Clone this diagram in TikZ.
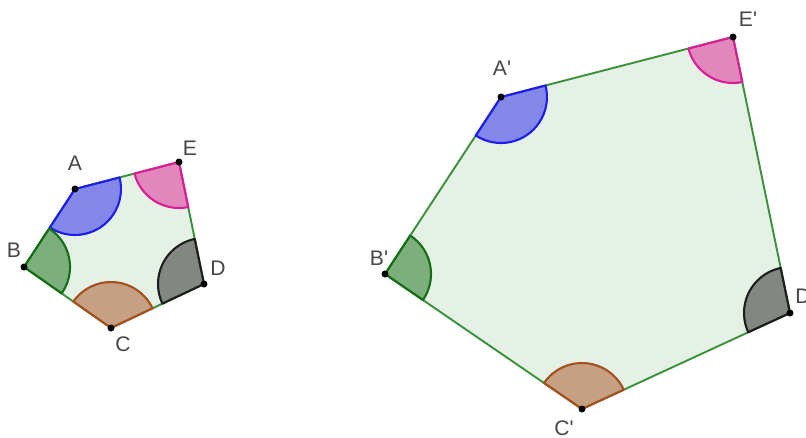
\documentclass[tikz,border=0pt]{standalone}
\usepackage{fontspec}
\setmainfont{Liberation Sans}
\usetikzlibrary{calc}
\definecolor{edgegreen}{RGB}{60,145,60}
\definecolor{angA}{RGB}{30,30,235}
\definecolor{angB}{RGB}{20,110,20}
\definecolor{angC}{RGB}{165,80,30}
\definecolor{angD}{RGB}{30,30,30}
\definecolor{angE}{RGB}{220,30,150}
\definecolor{labelgray}{RGB}{70,70,70}
\tikzset{
  poly/.style={draw=edgegreen, line width=1.1pt, fill=edgegreen, fill opacity=0.13, line join=round},
  sector/.style={draw=#1, fill=#1, fill opacity=0.5, line width=1.2pt, line join=round},
  lbl/.style={text=labelgray, font=\fontsize{12}{14}\selectfont, inner sep=0pt}
}
\begin{document}
\begin{tikzpicture}[x=0.02cm, y=-0.02cm]
\useasboundingbox (0,0) rectangle (806,437);
% small pentagon
\coordinate (A) at (75,189);
\coordinate (B) at (24,267);
\coordinate (C) at (111,328);
\coordinate (D) at (204,284);
\coordinate (E) at (179,162);
% large pentagon
\coordinate (A1) at (501,97);
\coordinate (B1) at (385,274);
\coordinate (C1) at (582,409);
\coordinate (D1) at (790,313);
\coordinate (E1) at (733,37);
\draw[poly] (A) -- (B) -- (C) -- (D) -- (E) -- cycle;
\draw[poly] (A1) -- (B1) -- (C1) -- (D1) -- (E1) -- cycle;
% angle sectors
\foreach \ver/\nxt/\prv/\col in {A/B/E/angA, B/C/A/angB, C/D/B/angC, D/E/C/angD, E/A/D/angE,
    A1/B1/E1/angA, B1/C1/A1/angB, C1/D1/B1/angC, D1/E1/C1/angD, E1/A1/D1/angE}
  \draw[sector=\col] let \p1=($(\nxt)-(\ver)$), \p2=($(\prv)-(\ver)$),
    \n1={atan2(\y1,\x1)}, \n2={mod(atan2(\y2,\x2)-\n1+720,360)} in
    (\ver) -- ++(\n1:0.92cm) arc[start angle=\n1, delta angle=\n2, radius=0.92cm] -- cycle;
% points
\foreach \ver in {A,B,C,D,E,A1,B1,C1,D1,E1}
  \fill (\ver) circle[radius=3.5];
% labels
\node[lbl] (lA) at (75,163) {A};
\node[lbl] (lB) at (14,250) {B};
\node[lbl] (lC) at (123,344) {C};
\node[lbl] (lD) at (218,268) {D};
\node[lbl] (lE) at (190,148) {E};
\node[lbl] (lA1) at (502,68) {A\textquotesingle};
\node[lbl] (lB1) at (379,258) {B\textquotesingle};
\node[lbl] (lC1) at (564,428) {C\textquotesingle};
\node[lbl, anchor=west] (lD1) at (795,296) {D\textquotesingle};
\node[lbl] (lE1) at (748,19) {E\textquotesingle};
\end{tikzpicture}
\end{document}
